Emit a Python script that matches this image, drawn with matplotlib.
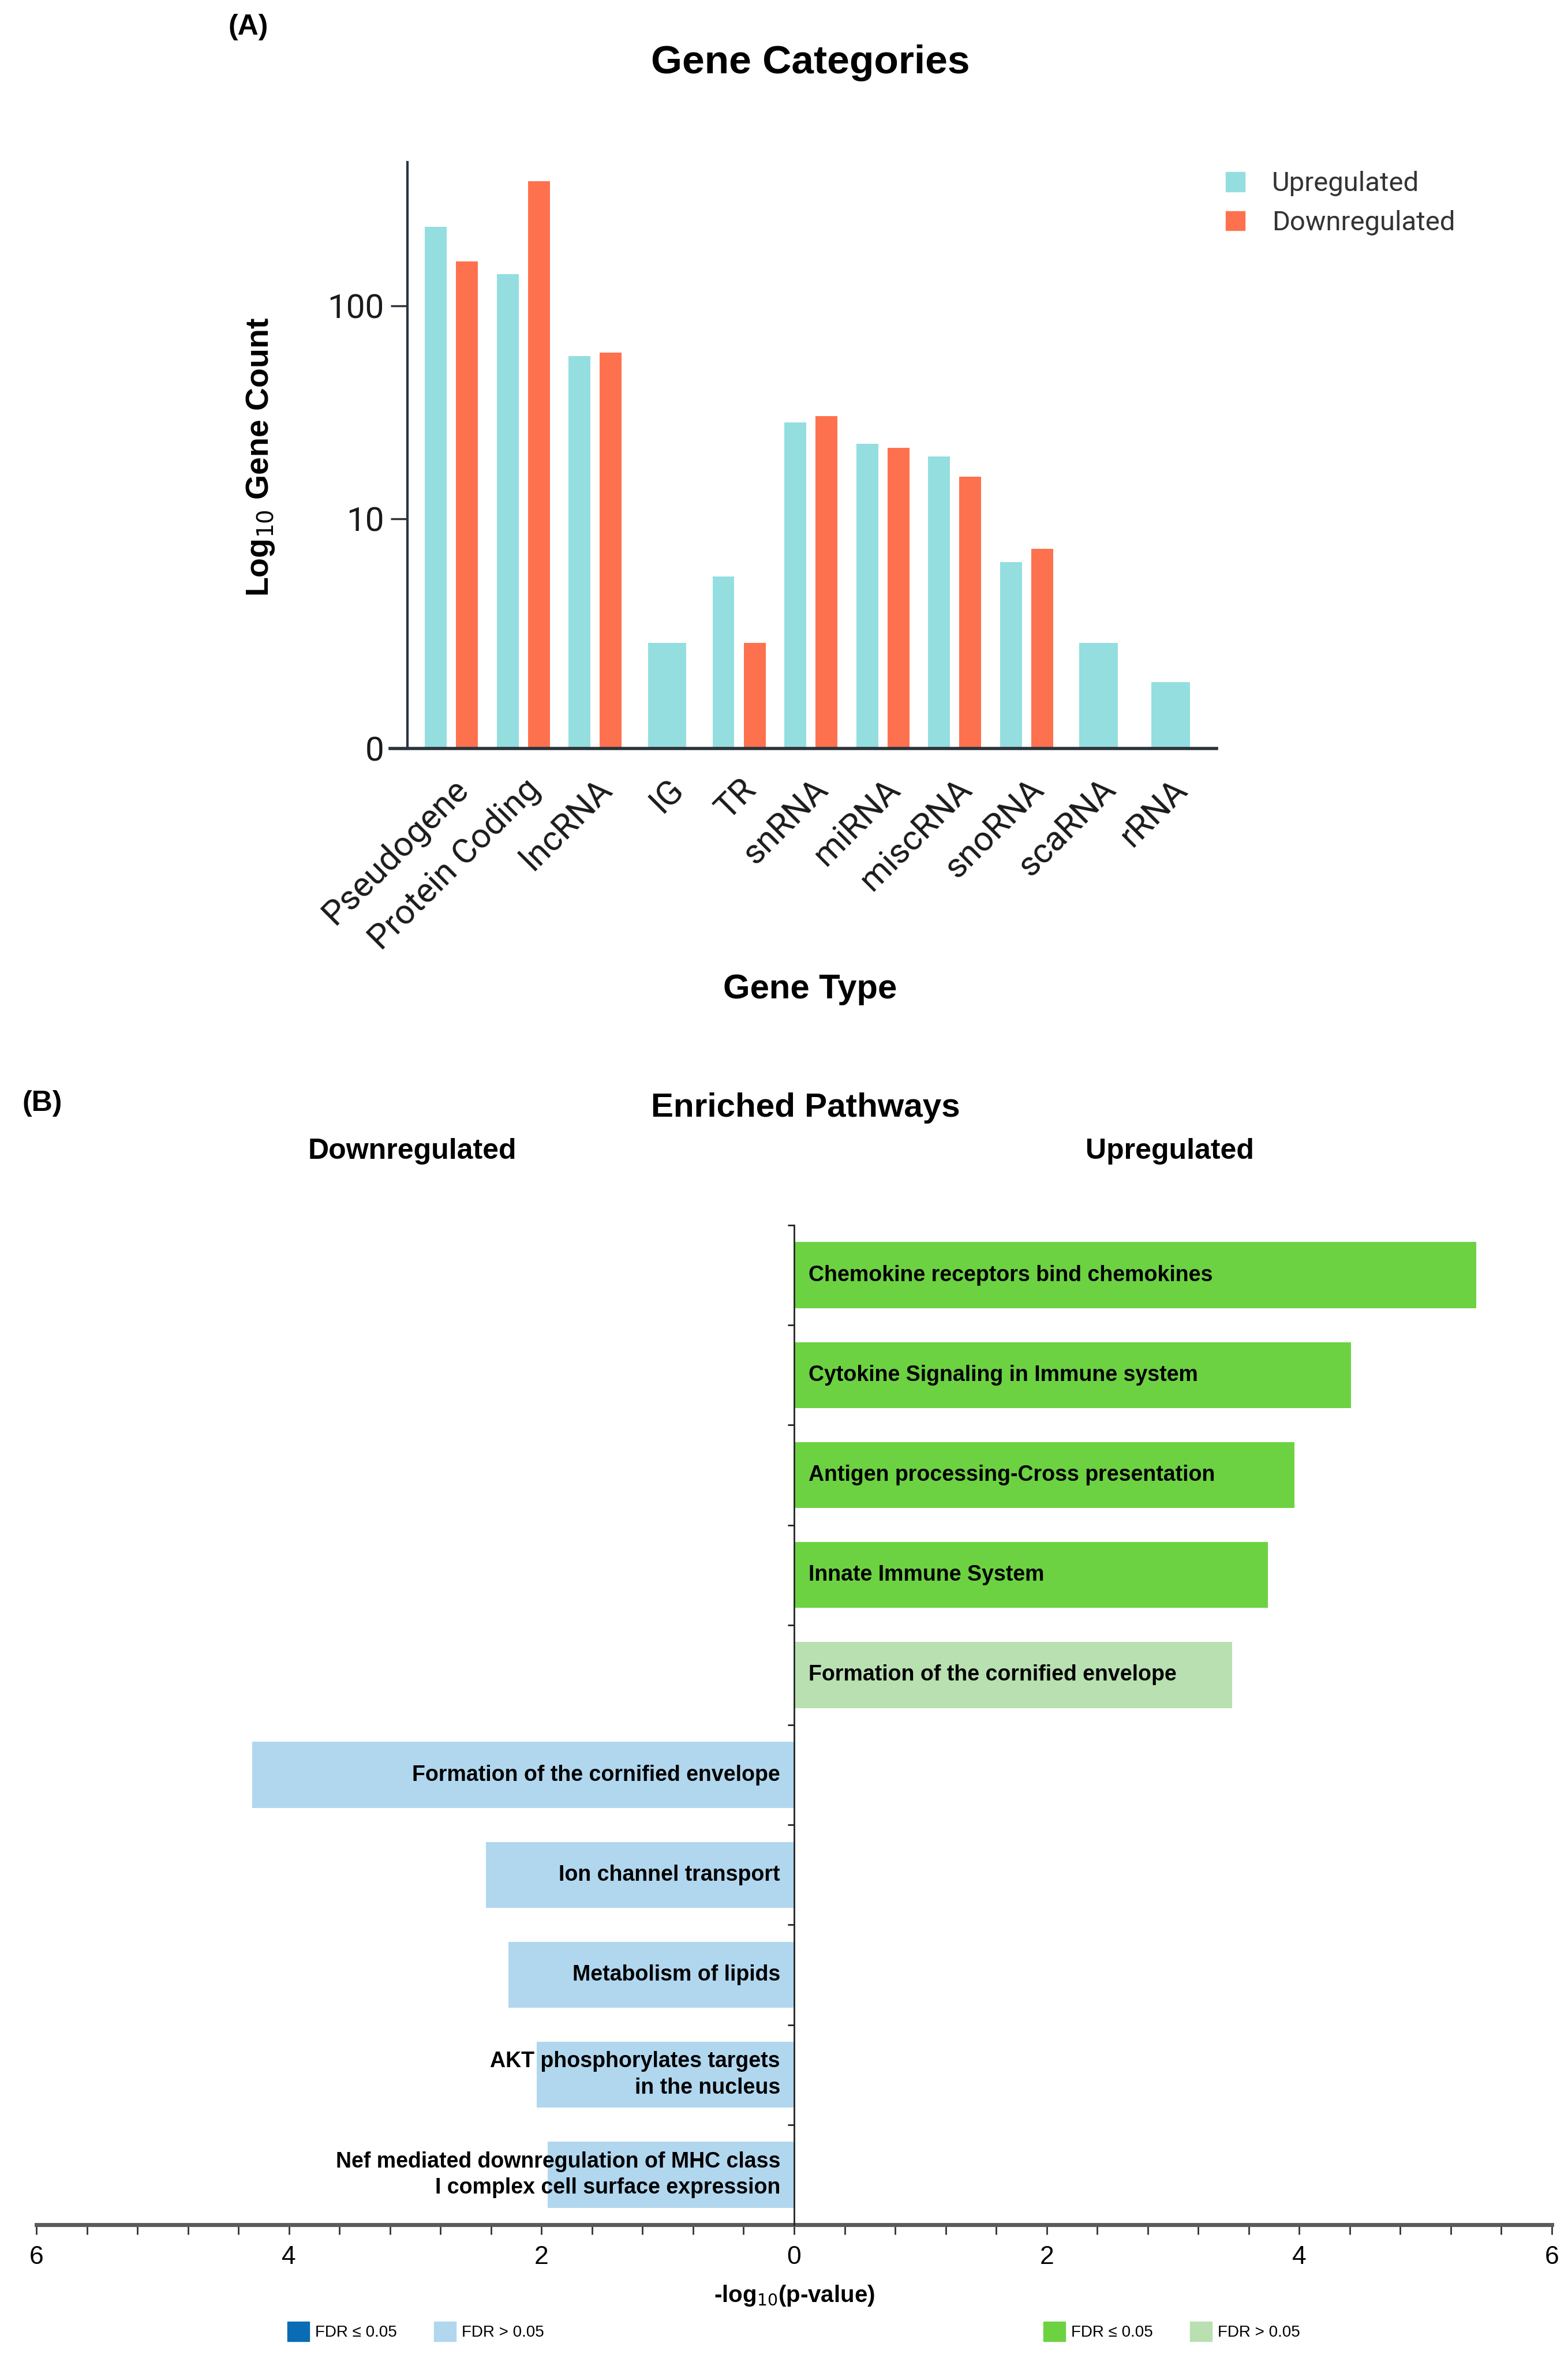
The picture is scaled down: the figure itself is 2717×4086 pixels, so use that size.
import numpy as np
import matplotlib
matplotlib.use("Agg")
import matplotlib.pyplot as plt
from matplotlib.patches import Patch
from matplotlib import font_manager as fm
from matplotlib.ticker import FixedFormatter, NullLocator

# ---------------- data ----------------
gene_types = ["Pseudogene", "Protein Coding", "lncRNA", "IG", "TR", "snRNA",
              "miRNA", "miscRNA", "snoRNA", "scaRNA", "rRNA"]
up_counts = [230, 140, 59, 2, 5, 29, 23, 20, 6, 2, 1]
down_counts = [160, 370, 61, 0, 2, 31, 22, 16, 7, 0, 0]
a_yticks = [0, 10, 100]

up_pathways = ["Chemokine receptors bind chemokines",
               "Cytokine Signaling in Immune system",
               "Antigen processing-Cross presentation",
               "Innate Immune System",
               "Formation of the cornified envelope"]
up_values = [5.40, 4.41, 3.96, 3.75, 3.47]
up_fdr_sig = [True, True, True, True, False]

down_pathways = ["Formation of the cornified envelope",
                 "Ion channel transport",
                 "Metabolism of lipids",
                 "AKT phosphorylates targets\nin the nucleus",
                 "Nef mediated downregulation of MHC class\nI complex cell surface expression"]
down_values = [4.29, 2.44, 2.26, 2.04, 1.95]
down_fdr_sig = [False, False, False, False, False]

b_xticks_major = [-6, -4, -2, 0, 2, 4, 6]

# ---------------- style ----------------
UP_C = "#94dedf"
DOWN_C = "#fe714f"
GREEN = "#6cd242"
LGREEN = "#b8e0b1"
BLUE = "#0a6cb4"
LBLUE = "#b1d7ef"
SPINE = "#2b333c"

avail = {f.name for f in fm.fontManager.ttflist}
SANS = "Liberation Sans"
ROBOTO = "Roboto" if "Roboto" in avail else "DejaVu Sans"

W, H = 2717, 4086
fig = plt.figure(figsize=(W / 100, H / 100), dpi=100)

def fx(px):
    return px / W

def fy(py):
    return 1 - py / H

# ================= Panel A =================
axL, axR, axT, axB = 676, 2108, 281, 1297
axA = fig.add_axes([fx(axL), fy(axB), fx(axR - axL), fy(axT) - fy(axB)])
axA.set_yscale("function", functions=(lambda v: np.log10(np.maximum(v, 0) + 1),
                                      lambda u: 10 ** u - 1))
x = np.arange(len(gene_types))
bw = 0.304
off = 0.217
for i in range(len(gene_types)):
    if down_counts[i] > 0:
        axA.bar(x[i] - off, up_counts[i], width=bw, color=UP_C, zorder=2)
        axA.bar(x[i] + off, down_counts[i], width=bw, color=DOWN_C, zorder=2)
    else:
        axA.bar(x[i], up_counts[i], width=0.535, color=UP_C, zorder=2)

axA.set_xlim(-0.851, 10.64)
axA.set_ylim(0, 451)
axA.set_yticks(a_yticks)
axA.yaxis.set_major_formatter(FixedFormatter([str(t) for t in a_yticks]))
axA.yaxis.set_minor_locator(NullLocator())
axA.set_xticks(x)
axA.set_xticklabels(gene_types, rotation=45, ha="right", rotation_mode="anchor")
axA.tick_params(axis="x", length=0, pad=30, labelsize=43, labelfontfamily=ROBOTO,
                labelcolor="#1a1a1a")
axA.tick_params(axis="y", length=21, width=2.5, color=SPINE, pad=8,
                labelsize=42, labelfontfamily=ROBOTO, labelcolor="#1a1a1a")
for s in ["top", "right"]:
    axA.spines[s].set_visible(False)
axA.spines["left"].set_position(("axes", 30 / (axR - axL)))
axA.spines["left"].set_linewidth(3.0)
axA.spines["left"].set_color(SPINE)
axA.spines["bottom"].set_linewidth(4.0)
axA.spines["bottom"].set_color(SPINE)

leg = axA.legend(handles=[Patch(color=UP_C, label="Upregulated"),
                          Patch(color=DOWN_C, label="Downregulated")],
                 loc="upper left", bbox_to_anchor=(fx(2081), fy(254)),
                 bbox_transform=fig.transFigure, frameon=False,
                 prop={"family": ROBOTO, "size": 34},
                 handlelength=0.7, handleheight=0.7, handletextpad=1.0,
                 labelspacing=0.5)
for t in leg.get_texts():
    t.set_color("#333333")

fig.text(fx(430), fy(47), "(A)", fontfamily=SANS, fontweight="bold",
         fontsize=36, ha="center", va="center")
fig.text(fx(1404), fy(109), "Gene Categories", fontfamily=SANS, fontweight="bold",
         fontsize=50, ha="center", va="center")
fig.text(fx(451), fy(792), r"Log$_{10}$ Gene Count", fontfamily=SANS,
         fontweight="bold", fontsize=40, ha="center", va="center", rotation=90)
fig.text(fx(1404), fy(1714), "Gene Type", fontfamily=SANS, fontweight="bold",
         fontsize=43, ha="center", va="center")

# ================= Panel B =================
bL, bR, bT, bBt = 63, 2689, 2123, 3855
axB2 = fig.add_axes([fx(bL), fy(bBt), fx(bR - bL), fy(bT) - fy(bBt)])
n_rows = len(up_pathways) + len(down_pathways)
rows_up = np.arange(len(up_pathways))
rows_down = np.arange(len(up_pathways), n_rows)
bh = 0.66
axB2.barh(rows_up, up_values, height=bh,
          color=[GREEN if s else LGREEN for s in up_fdr_sig], zorder=2)
axB2.barh(rows_down, [-v for v in down_values], height=bh,
          color=[BLUE if s else LBLUE for s in down_fdr_sig], zorder=2)
for r, lab in zip(rows_up, up_pathways):
    axB2.text(0.115, r, lab, ha="left", va="center", fontfamily=SANS,
              fontweight="bold", fontsize=27, zorder=3)
for r, lab in zip(rows_down, down_pathways):
    axB2.text(-0.11, r, lab, ha="right", va="center", fontfamily=SANS,
              fontweight="bold", fontsize=27, zorder=3, linespacing=1.35)

axB2.set_xlim(-6, 6)
axB2.set_ylim(n_rows - 0.5, -0.5)
xt = np.arange(-6, 6.01, 0.4)
axB2.set_xticks(xt)
axB2.set_xticklabels([str(abs(int(round(v)))) if abs(v - round(v)) < 1e-6 and int(round(v)) in b_xticks_major else ""
                      for v in xt])
axB2.tick_params(axis="x", length=12, width=2, color="#333333", pad=14,
                 labelsize=32, labelfontfamily=SANS)
axB2.set_yticks(np.arange(-0.5, n_rows, 1.0))
axB2.set_yticklabels([])
axB2.tick_params(axis="y", length=8, width=2, color="#222222")
for s in ["top", "right"]:
    axB2.spines[s].set_visible(False)
axB2.spines["left"].set_position(("data", 0))
axB2.spines["left"].set_linewidth(2)
axB2.spines["left"].set_color("#222222")
axB2.spines["left"].set_zorder(4)
axB2.spines["bottom"].set_linewidth(5)
axB2.spines["bottom"].set_color("#5a5a5a")

fig.text(fx(73), fy(1912), "(B)", fontfamily=SANS, fontweight="bold",
         fontsize=36, ha="center", va="center")
fig.text(fx(1396), fy(1920), "Enriched Pathways", fontfamily=SANS,
         fontweight="bold", fontsize=42, ha="center", va="center")
fig.text(fx(714), fy(1995), "Downregulated", fontfamily=SANS, fontweight="bold",
         fontsize=36, ha="center", va="center")
fig.text(fx(2027), fy(1995), "Upregulated", fontfamily=SANS, fontweight="bold",
         fontsize=36, ha="center", va="center")
fig.text(fx(1376), fy(3978), r"-log$_{10}$(p-value)", fontfamily=SANS,
         fontweight="bold", fontsize=29, ha="center", va="center")

def fdr_legend(handles, x_left):
    return fig.legend(handles=handles, loc="center left",
                      bbox_to_anchor=(fx(x_left), fy(4040)), ncol=2,
                      frameon=False, prop={"family": SANS, "size": 20},
                      handlelength=1.37, handleheight=1.5, handletextpad=0.36,
                      columnspacing=2.3, borderpad=0, borderaxespad=0)

fdr_legend([Patch(color=BLUE, label="FDR ≤ 0.05"),
            Patch(color=LBLUE, label="FDR > 0.05")], 498)
fdr_legend([Patch(color=GREEN, label="FDR ≤ 0.05"),
            Patch(color=LGREEN, label="FDR > 0.05")], 1808)

fig.savefig("out.png", dpi=100, facecolor="white")
